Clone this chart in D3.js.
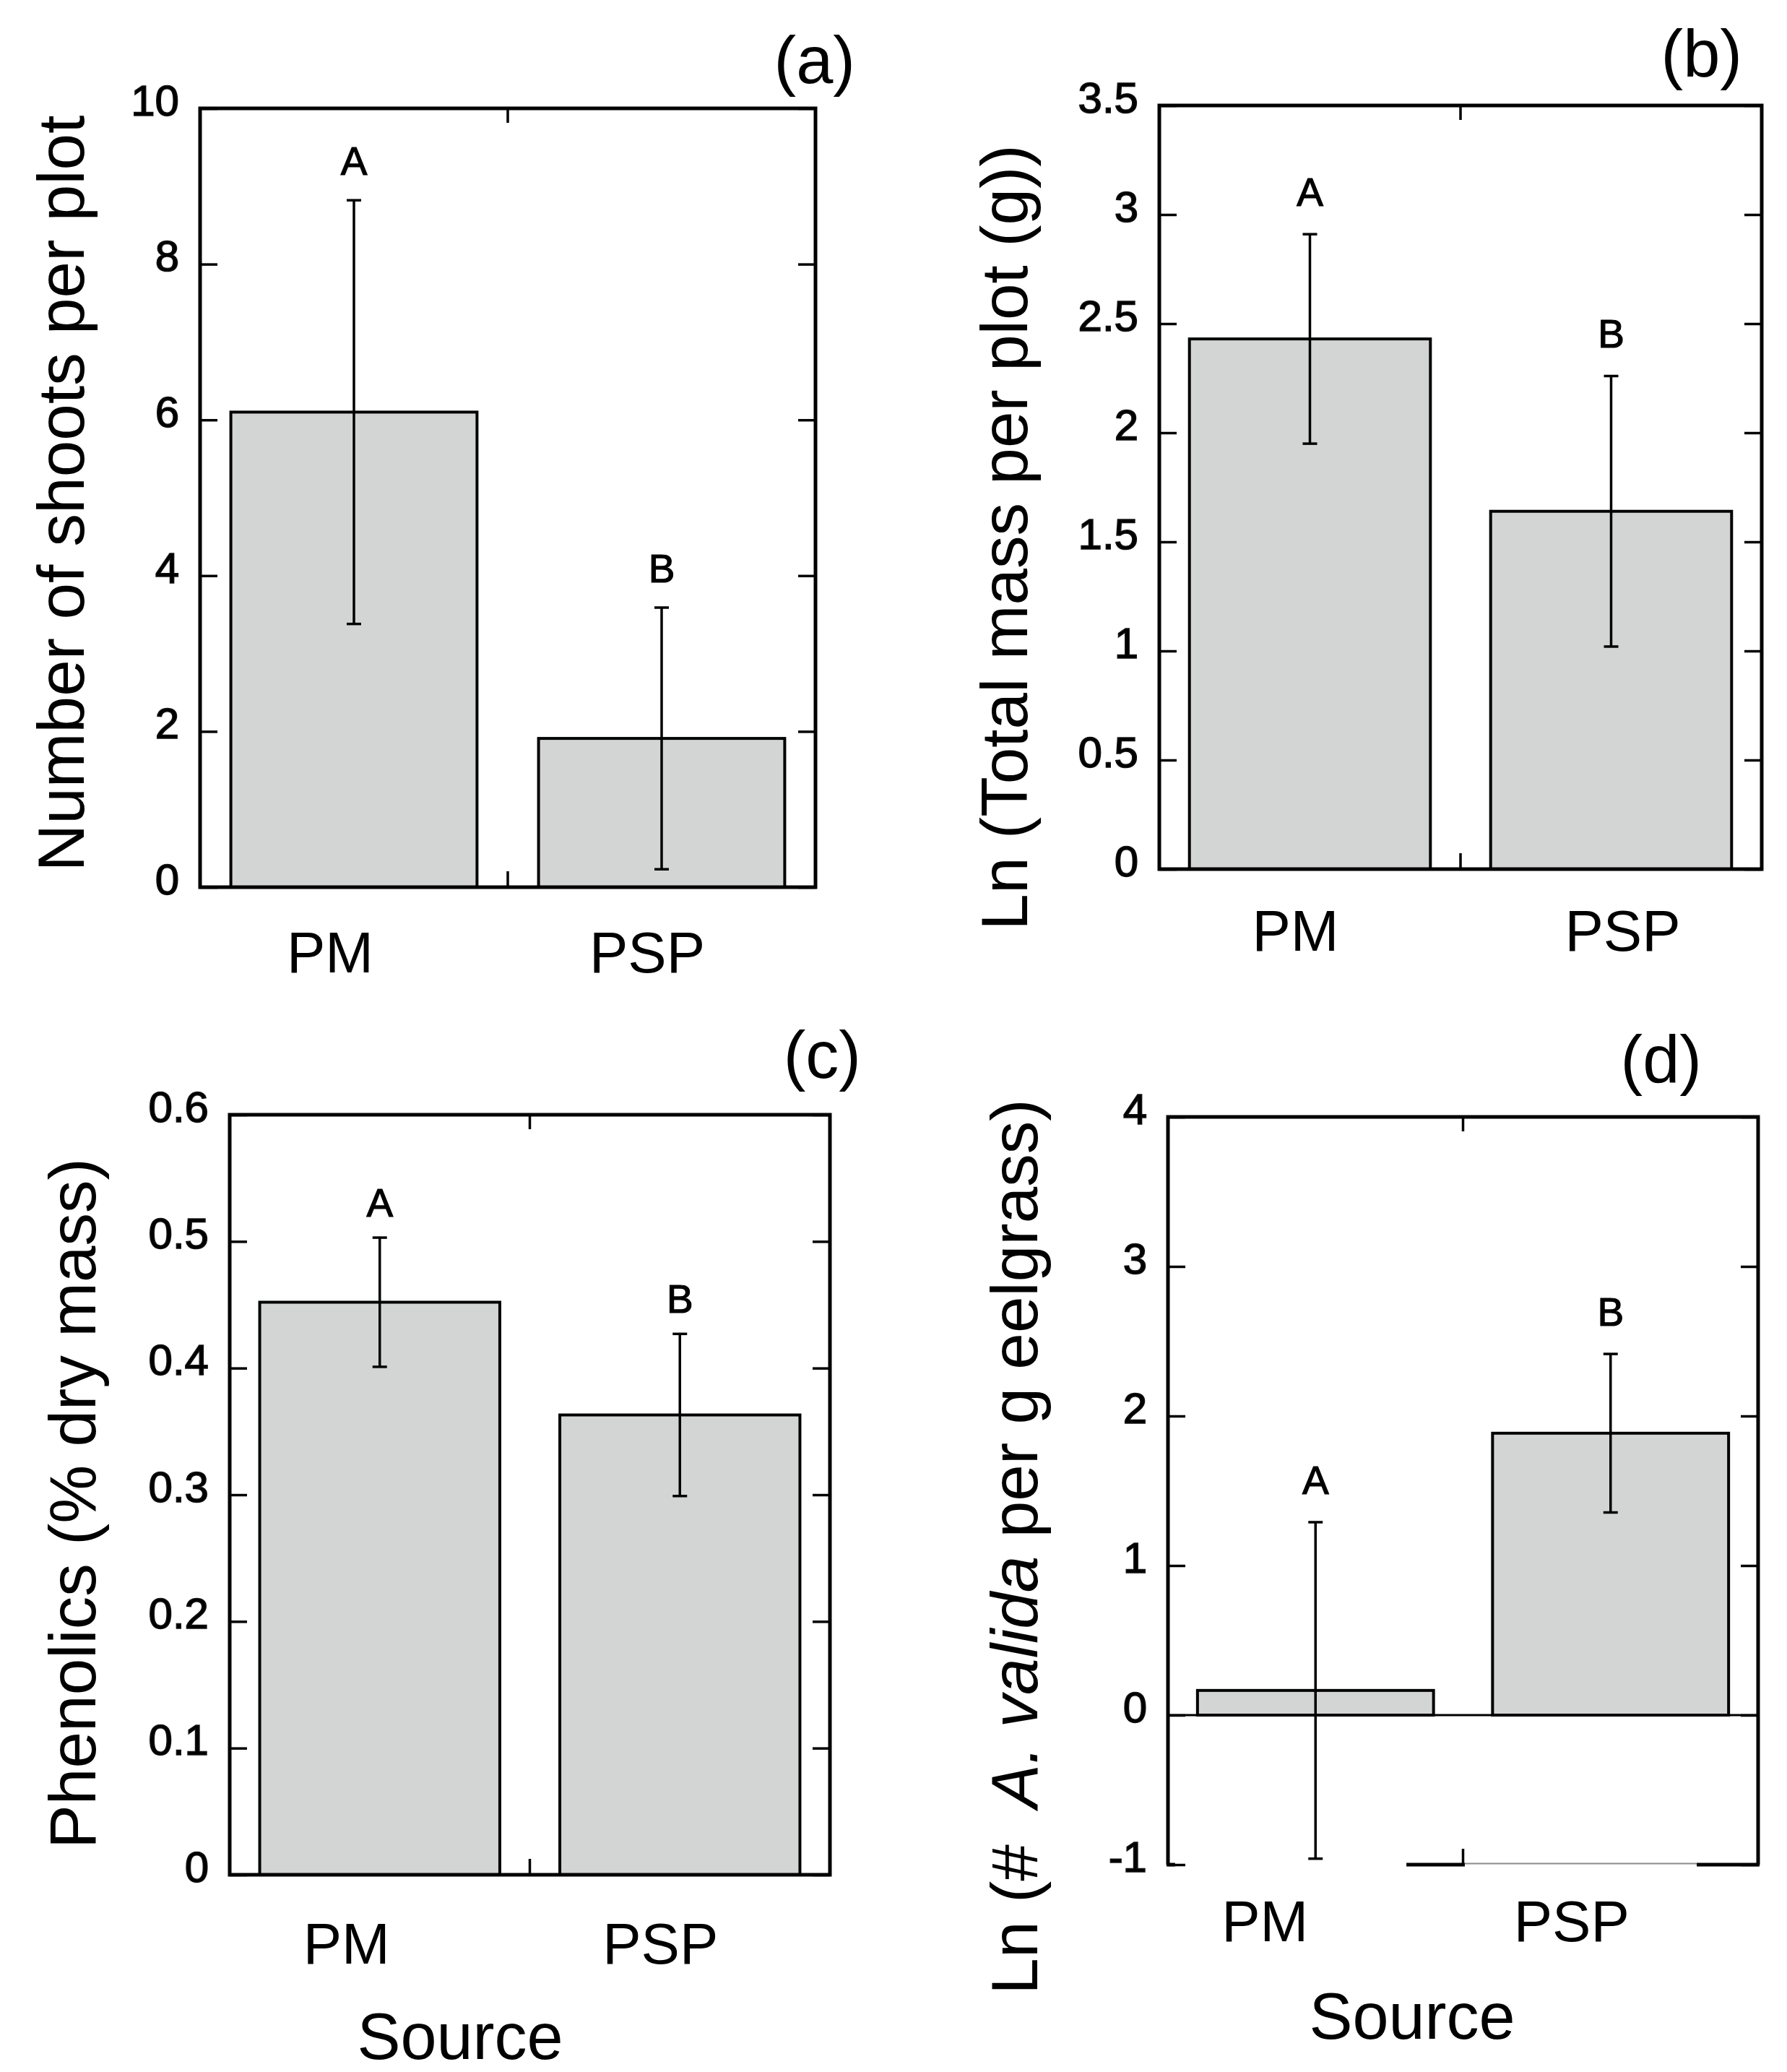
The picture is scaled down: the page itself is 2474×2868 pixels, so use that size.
<!DOCTYPE html>
<html>
<head>
<meta charset="utf-8">
<script src="https://cdn.jsdelivr.net/npm/d3@7"></script>
<style>
  body { margin: 0; background: #fff; }
  text { font-family: "Liberation Sans", Arial, sans-serif; fill: #000; }
</style>
</head>
<body>
<div id="chart"></div>
<script>
// categories shared by every panel
const sources = ['PM', 'PSP']

// (a) number of shoots per plot
const shootsMean = [6.1, 1.91]
const shootsErr = [2.72, 1.68]
const shootsLetters = ['A', 'B']
const shootsTicks = [0, 2, 4, 6, 8, 10]

// (b) ln total mass per plot
const massMean = [2.43, 1.64]
const massErr = [0.48, 0.62]
const massLetters = ['A', 'B']
const massTicks = [0, 0.5, 1, 1.5, 2, 2.5, 3, 3.5]

// (c) phenolics
const phenolicsMean = [0.452, 0.363]
const phenolicsErr = [0.051, 0.064]
const phenolicsLetters = ['A', 'B']
const phenolicsTicks = [0, 0.1, 0.2, 0.3, 0.4, 0.5, 0.6]

// (d) ln A. valida per g eelgrass
const validaMean = [0.165, 1.885]
const validaErr = [1.125, 0.53]
const validaLetters = ['A', 'B']
const validaTicks = [-1, 0, 1, 2, 3, 4]

const W = 2474
const H = 2868
const barFill = '#d3d5d4'

const svg = d3.select('#chart')
  .append('svg')
  .attr('width', W)
  .attr('height', H)
  .attr('viewBox', `0 0 ${W} ${H}`)

svg.append('rect').attr('width', W).attr('height', H).attr('fill', '#fff')

// layout of each panel (pixel boxes, label anchors)
const panels = [
  {
    mean: shootsMean, err: shootsErr, letters: shootsLetters, ticks: shootsTicks,
    box: [277, 150, 1129, 1228],
    title: [{ t: 'Number of shoots per plot' }], titleX: 116, titleY: 683,
    tag: '(a)', tagX: 1184, tagY: 115, catY: 1346, catShift: [-33, -20], sigGap: 54
  },
  {
    mean: massMean, err: massErr, letters: massLetters, ticks: massTicks,
    box: [1605, 146, 2439, 1203],
    title: [{ t: 'Ln (Total mass per plot (g))' }], titleX: 1422, titleY: 744,
    tag: '(b)', tagX: 2412, tagY: 106, catY: 1316, catShift: [-20, 16], sigGap: 58
  },
  {
    mean: phenolicsMean, err: phenolicsErr, letters: phenolicsLetters, ticks: phenolicsTicks,
    box: [318, 1543, 1149, 2595],
    title: [{ t: 'Phenolics (% dry mass)' }], titleX: 132, titleY: 2081,
    tag: '(c)', tagX: 1192, tagY: 1492, catY: 2718, catShift: [-46, -27], sigGap: 48,
    xTitleX: 637, xTitleY: 2850
  },
  {
    mean: validaMean, err: validaErr, letters: validaLetters, ticks: validaTicks,
    box: [1617, 1546, 2434, 2581],
    title: [{ t: 'Ln (#  ' }, { t: 'A. valida', it: true }, { t: ' per g eelgrass)' }],
    titleX: 1436, titleY: 2141,
    tag: '(d)', tagX: 2356, tagY: 1498, catY: 2687, catShift: [-70, -54], sigGap: 58,
    xTitleX: 1955, xTitleY: 2822, zeroLine: true, brokenBottom: true
  }
]

panels.forEach(drawPanel)

function drawPanel (p) {
  const [x0, y0, x1, y1] = p.box
  const g = svg.append('g')

  const x = d3.scaleBand()
    .domain(sources)
    .range([x0, x1])
    .paddingInner(0.2)
    .paddingOuter(0.1)

  const y = d3.scaleLinear()
    .domain(d3.extent(p.ticks))
    .range([y1, y0])

  const rows = sources.map((s, i) => ({ s, m: p.mean[i], e: p.err[i], l: p.letters[i], i }))
  const base = y(Math.max(0, y.domain()[0]))

  // bars
  g.selectAll('rect.bar')
    .data(rows)
    .join('rect')
    .attr('class', 'bar')
    .attr('x', d => x(d.s))
    .attr('width', x.bandwidth())
    .attr('y', d => Math.min(y(d.m), base))
    .attr('height', d => Math.abs(base - y(d.m)))
    .attr('fill', barFill)
    .attr('stroke', '#000')
    .attr('stroke-width', 4)

  if (p.zeroLine) {
    g.append('line')
      .attr('x1', x0).attr('x2', x1)
      .attr('y1', y(0)).attr('y2', y(0))
      .attr('stroke', '#000').attr('stroke-width', 3)
  }

  // error bars
  const cx = d => x(d.s) + x.bandwidth() / 2
  const eb = g.selectAll('g.err').data(rows).join('g').attr('class', 'err')
  eb.append('line')
    .attr('x1', cx).attr('x2', cx)
    .attr('y1', d => y(d.m + d.e)).attr('y2', d => y(d.m - d.e))
  eb.append('line')
    .attr('x1', d => cx(d) - 10).attr('x2', d => cx(d) + 10)
    .attr('y1', d => y(d.m + d.e)).attr('y2', d => y(d.m + d.e))
  eb.append('line')
    .attr('x1', d => cx(d) - 10).attr('x2', d => cx(d) + 10)
    .attr('y1', d => y(d.m - d.e)).attr('y2', d => y(d.m - d.e))
  eb.selectAll('line').attr('stroke', '#000').attr('stroke-width', 3.5)

  // significance letters
  g.selectAll('text.sig')
    .data(rows)
    .join('text')
    .attr('class', 'sig')
    .attr('x', cx)
    .attr('y', d => y(d.m + d.e) - p.sigGap)
    .attr('dominant-baseline', 'central')
    .attr('text-anchor', 'middle')
    .attr('font-size', 55)
    .attr('stroke', '#000')
    .attr('stroke-width', 1.2)
    .text(d => d.l)

  // y axis with inner ticks and labels
  const yAxis = d3.axisLeft(y)
    .tickValues(p.ticks)
    .tickFormat(d => String(d))
    .tickSizeInner(-24)
    .tickSizeOuter(0)
    .tickPadding(29)
  const ya = g.append('g').attr('transform', `translate(${x0},0)`).call(yAxis)
  ya.select('.domain').remove()
  ya.selectAll('line').attr('stroke', '#000').attr('stroke-width', 3.5)
  ya.selectAll('text')
    .attr('font-size', 60)
    .attr('font-family', '"Liberation Sans", Arial, sans-serif')
    .attr('fill', '#111')
    .attr('stroke', '#111')
    .attr('stroke-width', 1.6)
    .attr('transform', 'translate(0,-10)')

  const yAxisR = d3.axisRight(y)
    .tickValues(p.ticks)
    .tickFormat('')
    .tickSizeInner(-24)
    .tickSizeOuter(0)
  const yr = g.append('g').attr('transform', `translate(${x1},0)`).call(yAxisR)
  yr.select('.domain').remove()
  yr.selectAll('line').attr('stroke', '#000').attr('stroke-width', 3.5)

  // middle ticks on top and bottom edges
  const xm = (x0 + x1) / 2
  g.append('line').attr('x1', xm).attr('x2', xm).attr('y1', y0).attr('y2', y0 + 20)
    .attr('stroke', '#000').attr('stroke-width', 3.5)
  g.append('line').attr('x1', xm).attr('x2', xm).attr('y1', y1).attr('y2', y1 - 22)
    .attr('stroke', '#000').attr('stroke-width', 3.5)

  // frame
  const frame = g.append('g').attr('fill', 'none').attr('stroke', '#000').attr('stroke-width', 5)
  if (!p.brokenBottom) {
    frame.append('rect').attr('x', x0).attr('y', y0).attr('width', x1 - x0).attr('height', y1 - y0)
  } else {
    const w = x1 - x0
    frame.append('path').attr('d', `M${x0},${y1}V${y0}H${x1}V${y1}`)
    frame.append('path').attr('d', `M${x0 - 2},${y1}H${x0 + 0.012 * w}`)
    frame.append('path').attr('d', `M${x0 + 0.404 * w},${y1}H${x0 + 0.503 * w}`)
    frame.append('path').attr('d', `M${x0 + 0.896 * w},${y1}H${x1 + 2}`)
    g.append('line')
      .attr('x1', x0 + 0.503 * w).attr('x2', x0 + 0.896 * w)
      .attr('y1', y1 - 1.5).attr('y2', y1 - 1.5)
      .attr('stroke', '#8a8a8a').attr('stroke-width', 2)
  }

  // category labels
  g.selectAll('text.cat')
    .data(rows)
    .join('text')
    .attr('class', 'cat')
    .attr('x', d => cx(d) + p.catShift[d.i])
    .attr('y', p.catY)
    .attr('text-anchor', 'middle')
    .attr('font-size', 80)
    .text(d => d.s)

  // y title
  const t = g.append('text')
    .attr('transform', `translate(${p.titleX},${p.titleY}) rotate(-90)`)
    .attr('text-anchor', 'middle')
    .attr('font-size', 91)
  t.selectAll('tspan')
    .data(p.title)
    .join('tspan')
    .attr('font-style', d => d.it ? 'italic' : null)
    .text(d => d.t)
  t.style('white-space', 'pre')

  // x title
  if (p.xTitleX) {
    g.append('text')
      .attr('x', p.xTitleX)
      .attr('y', p.xTitleY)
      .attr('text-anchor', 'middle')
      .attr('font-size', 90)
      .text('Source')
  }

  // panel tag
  g.append('text')
    .attr('x', p.tagX)
    .attr('y', p.tagY)
    .attr('text-anchor', 'end')
    .attr('font-size', 92)
    .text(p.tag)
}
</script>
</body>
</html>
